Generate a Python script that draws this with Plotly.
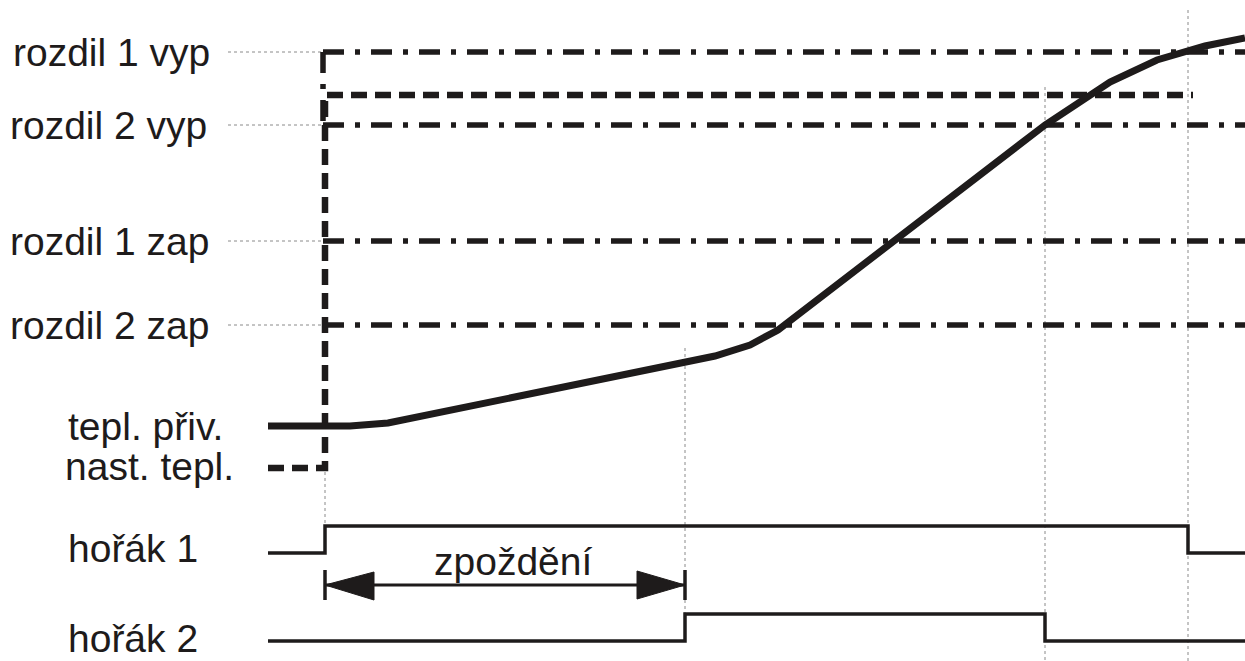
import plotly.graph_objects as go

# ---- data (drawing units: time along x, signal level along y) ----
# time events
T_START, T_ON1, T_ON2, T_OFF2, T_OFF1, T_END = 268, 325, 685, 1045, 1188, 1245

# threshold levels
THRESH_NAMES = ["rozdil 1 vyp", "rozdil 2 vyp", "rozdil 1 zap", "rozdil 2 zap"]
THRESH_Y = [52, 125, 241, 325]

# supply temperature curve (tepl. přiv.)
CURVE_T = [268, 350, 388, 715, 750, 778, 1045, 1110, 1157, 1205, 1245]
CURVE_Y = [426, 426, 423, 356, 345, 330, 125, 82, 60, 46, 38]

# set temperature (nast. tepl.) step
SET_T = [268, 325, 325, 1193]
SET_Y = [468, 468, 95, 95]

# burner 1 / burner 2 states
B1_T = [T_START, T_ON1, T_ON1, T_OFF1, T_OFF1, T_END]
B1_Y = [553, 553, 526, 526, 553, 553]
B2_T = [T_START, T_ON2, T_ON2, T_OFF2, T_OFF2, T_END]
B2_Y = [641, 641, 614, 614, 641, 641]

# delay arrow (zpoždění)
DELAY_T = [T_ON1, T_ON2]
DELAY_Y = 585

INK = "#1e1b1b"
FONT = "Liberation Sans, Arial, sans-serif"
FS = 39

fig = go.Figure()

def line(x, y, width, dash="solid", color=INK, shape="linear"):
    fig.add_trace(go.Scatter(x=x, y=y, mode="lines",
                             line=dict(color=color, width=width, dash=dash, shape=shape),
                             hoverinfo="skip", showlegend=False))

GREY = "#8a8a8a"
# thin dotted guides
for ty in THRESH_Y:
    line([228, 323], [ty, ty], 1, "dot", GREY)
line([T_ON1, T_ON1], [472, 526], 1, "dot", GREY)
line([T_ON2, T_ON2], [348, 614], 1, "dot", GREY)
line([T_OFF2, T_OFF2], [87, 661], 1, "dot", GREY)
line([T_OFF1, T_OFF1], [10, 661], 1, "dot", GREY)

# threshold dash-dot lines
DASHDOT = "21px,11px,5px,11px"
for ty in THRESH_Y:
    line([323, T_END], [ty, ty], 5.5, DASHDOT)
line([323, 323], [52, 125], 5.5, DASHDOT)

# set temperature dashed
line(SET_T, SET_Y, 6.5, "16px,8px")

# supply temperature
line(CURVE_T, CURVE_Y, 7)

# burners
line(B1_T, B1_Y, 3.5)
line(B2_T, B2_Y, 3.5)

# delay arrow
line(DELAY_T, [DELAY_Y, DELAY_Y], 3)
for t in DELAY_T:
    line([t, t], [DELAY_Y - 15, DELAY_Y + 15], 3.5)
fig.add_trace(go.Scatter(x=[DELAY_T[0], DELAY_T[0] + 49, DELAY_T[0] + 49, DELAY_T[0]],
                         y=[DELAY_Y, DELAY_Y - 13, DELAY_Y + 15, DELAY_Y],
                         mode="lines", fill="toself", fillcolor=INK,
                         line=dict(color=INK, width=1), hoverinfo="skip", showlegend=False))
fig.add_trace(go.Scatter(x=[DELAY_T[1], DELAY_T[1] - 48, DELAY_T[1] - 48, DELAY_T[1]],
                         y=[DELAY_Y, DELAY_Y - 14, DELAY_Y + 14, DELAY_Y],
                         mode="lines", fill="toself", fillcolor=INK,
                         line=dict(color=INK, width=1), hoverinfo="skip", showlegend=False))

# labels
LABELS = THRESH_NAMES + ["tepl. přiv.", "nast. tepl.", "hořák 1", "hořák 2"]
LABEL_X = [11, 8, 8, 8, 66, 63, 66, 66]
LABEL_Y = THRESH_Y + [426, 466, 548, 638]
anns = []
for txt, lx, ly in zip(LABELS, LABEL_X, LABEL_Y):
    anns.append(dict(x=lx, y=ly, xref="x", yref="y", text=txt, showarrow=False,
                     xanchor="left", yanchor="middle",
                     font=dict(family=FONT, size=FS, color=INK)))
anns.append(dict(x=(DELAY_T[0] + DELAY_T[1]) / 2 + 8, y=561, xref="x", yref="y",
                 text="zpoždění", showarrow=False, xanchor="center", yanchor="middle",
                 font=dict(family=FONT, size=FS, color=INK)))

fig.update_layout(
    width=1245, height=661,
    margin=dict(l=0, r=0, t=0, b=0),
    paper_bgcolor="white", plot_bgcolor="white",
    xaxis=dict(range=[0, 1245], visible=False, fixedrange=True),
    yaxis=dict(range=[661, 0], visible=False, fixedrange=True),
    annotations=anns,
)

fig.write_html("out.html", config={"displayModeBar": False},
               post_script="document.body.style.margin='0';document.body.style.overflow='hidden';")
